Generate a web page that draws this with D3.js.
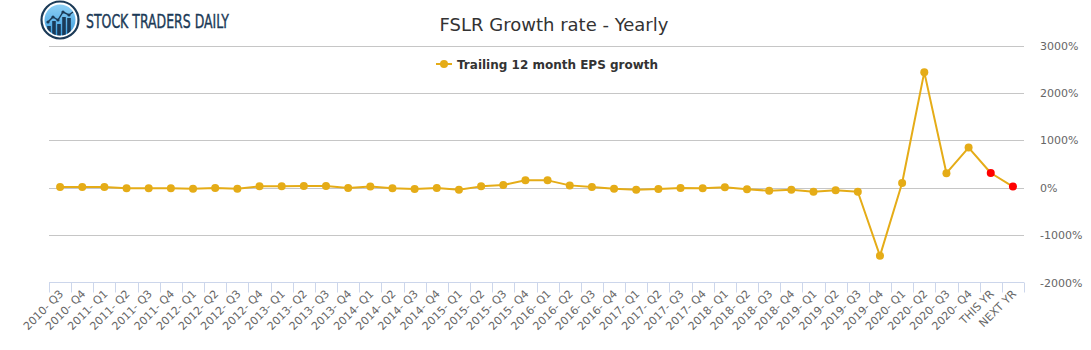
<!DOCTYPE html>
<html>
<head>
<meta charset="utf-8">
<script src="https://cdn.jsdelivr.net/npm/d3@7/dist/d3.min.js"></script>
<style>
  html, body { margin: 0; padding: 0; background: #fff; }
  svg { display: block; }
</style>
</head>
<body>
<svg id="chart" width="1091" height="350"></svg>
<script>
// ---------- DATA ----------
const categories = [
  "2010- Q3","2010- Q4",
  "2011- Q1","2011- Q2","2011- Q3","2011- Q4",
  "2012- Q1","2012- Q2","2012- Q3","2012- Q4",
  "2013- Q1","2013- Q2","2013- Q3","2013- Q4",
  "2014- Q1","2014- Q2","2014- Q3","2014- Q4",
  "2015- Q1","2015- Q2","2015- Q3","2015- Q4",
  "2016- Q1","2016- Q2","2016- Q3","2016- Q4",
  "2017- Q1","2017- Q2","2017- Q3","2017- Q4",
  "2018- Q1","2018- Q2","2018- Q3","2018- Q4",
  "2019- Q1","2019- Q2","2019- Q3","2019- Q4",
  "2020- Q1","2020- Q2","2020- Q3","2020- Q4",
  "THIS YR","NEXT YR"
];
// Trailing 12 month EPS growth (%)
const growthValues = [
  14, 14,
  14, -14, -14, -14,
  -21, -7, -21, 28,
  28, 35, 35, -7,
  25, -14, -28, -7,
  -42, 28, 56, 155,
  155, 49, 14, -21,
  -42, -28, -7, -14,
  10, -35, -63, -42,
  -85, -56, -85, -1438,
  100, 2438, 306, 846,
  310, 24
];
// categories whose marker is drawn as an estimate (red)
const estimateCategories = ["THIS YR", "NEXT YR"];
const yTicks = [-2000, -1000, 0, 1000, 2000, 3000];
const chartTitle = "FSLR Growth rate - Yearly";
const seriesName = "Trailing 12 month EPS growth";
const brandName = "STOCK TRADERS DAILY";

// ---------- LAYOUT ----------
const svg = d3.select("#chart");
const plot = { left: 49, right: 1024, top: 45.5, bottom: 282.5 };
const lineColor = "#E5AC17";
const estColor = "#FF0000";

const x = d3.scaleBand().domain(categories).range([plot.left, plot.right]).padding(0);
const y = d3.scaleLinear().domain([-2000, 3000]).range([plot.bottom, plot.top]);

// ---------- GRID ----------
svg.append("g").selectAll("line").data(yTicks).join("line")
  .attr("x1", plot.left).attr("x2", plot.right)
  .attr("y1", d => Math.round(y(d)) + 0.5).attr("y2", d => Math.round(y(d)) + 0.5)
  .attr("stroke", d => d === -2000 ? "none" : "#c6c6c6").attr("stroke-width", 1);

// right axis labels
svg.append("g").selectAll("text").data(yTicks).join("text")
  .attr("x", 1040).attr("y", d => y(d) + 4)
  .attr("font-family", "DejaVu Sans, sans-serif").attr("font-size", 11)
  .attr("fill", "#666").text(d => d + "%");

// ---------- X AXIS ----------
const xAxisG = svg.append("g");
xAxisG.append("line")
  .attr("x1", plot.left).attr("x2", plot.right)
  .attr("y1", plot.bottom).attr("y2", plot.bottom)
  .attr("stroke", "#ccd6eb").attr("stroke-width", 1);
const tickPositions = categories.map(c => x(c)).concat([x(categories[categories.length - 1]) + x.bandwidth()]);
xAxisG.selectAll("line.tick").data(tickPositions).join("line").attr("class", "tick")
  .attr("x1", d => Math.round(d) + 0.5).attr("x2", d => Math.round(d) + 0.5)
  .attr("y1", plot.bottom).attr("y2", plot.bottom + 10)
  .attr("stroke", "#ccd6eb").attr("stroke-width", 1);
xAxisG.selectAll("text").data(categories).join("text")
  .attr("transform", d => `translate(${x(d) + x.bandwidth() / 2 + 4},${plot.bottom + 12}) rotate(-45)`)
  .attr("text-anchor", "end")
  .attr("font-family", "DejaVu Sans, sans-serif").attr("font-size", 11)
  .attr("fill", "#666").text(d => d);

// ---------- SERIES ----------
const pts = categories.map((c, i) => ({ c, v: growthValues[i] }));
const line = d3.line().x(d => x(d.c) + x.bandwidth() / 2).y(d => y(d.v));
svg.append("path").datum(pts)
  .attr("d", line).attr("fill", "none")
  .attr("stroke", lineColor).attr("stroke-width", 2).attr("stroke-linejoin", "round");
svg.append("g").selectAll("circle").data(pts).join("circle")
  .attr("cx", d => x(d.c) + x.bandwidth() / 2).attr("cy", d => y(d.v))
  .attr("r", 4)
  .attr("fill", d => estimateCategories.includes(d.c) ? estColor : lineColor);

// ---------- TITLE ----------
svg.append("text").attr("x", 554).attr("y", 31)
  .attr("text-anchor", "middle")
  .attr("font-family", "DejaVu Sans, sans-serif").attr("font-size", 18)
  .attr("fill", "#333").text(chartTitle);

// ---------- LEGEND ----------
const lg = svg.append("g").attr("transform", "translate(436,64)");
lg.append("line").attr("x1", 0).attr("x2", 16).attr("y1", 0).attr("y2", 0)
  .attr("stroke", lineColor).attr("stroke-width", 2);
lg.append("circle").attr("cx", 8).attr("cy", 0).attr("r", 4).attr("fill", lineColor);
lg.append("text").attr("x", 21).attr("y", 4.5)
  .attr("font-family", "DejaVu Sans, sans-serif").attr("font-size", 12).attr("font-weight", "bold")
  .attr("fill", "#333").text(seriesName);

// ---------- LOGO ----------
const logo = svg.append("g").attr("transform", "translate(60,20)");
const defs = svg.append("defs");
const grad = defs.append("linearGradient").attr("id", "lg1").attr("x1", 0).attr("y1", 0).attr("x2", 0).attr("y2", 1);
grad.append("stop").attr("offset", "0%").attr("stop-color", "#8fd0f5");
grad.append("stop").attr("offset", "100%").attr("stop-color", "#3a9ee0");
logo.append("circle").attr("r", 18.5).attr("fill", "#fff").attr("stroke", "#1b3a57").attr("stroke-width", 2.2);
logo.append("circle").attr("r", 15.5).attr("fill", "url(#lg1)");
const clip = defs.append("clipPath").attr("id", "logoclip");
clip.append("circle").attr("cx", 60).attr("cy", 20).attr("r", 15.5);
const bars = [[-11, 6], [-6, 1], [-1, 4], [4, -3], [9, -2]];
const bg = svg.append("g").attr("clip-path", "url(#logoclip)");
bg.selectAll("rect").data(bars).join("rect")
  .attr("x", d => 60 + d[0] - 1.8).attr("y", d => 20 + d[1]).attr("width", 3.6).attr("height", 30)
  .attr("fill", "#1b3a57");
const lp = [[-12, 2], [-7, -3], [-2, 0], [3, -8], [9, -5], [13, -8]];
bg.append("path").attr("d", d3.line()(lp.map(p => [60 + p[0], 20 + p[1]])))
  .attr("fill", "none").attr("stroke", "#1b3a57").attr("stroke-width", 1.4);
bg.selectAll("circle.dot").data(lp.slice(0, 5)).join("circle").attr("class", "dot")
  .attr("cx", p => 60 + p[0]).attr("cy", p => 20 + p[1]).attr("r", 1.6).attr("fill", "#1b3a57");
svg.append("text").attr("x", 86).attr("y", 28)
  .attr("font-family", "Liberation Sans Narrow, DejaVu Sans Condensed, sans-serif")
  .attr("font-size", 20).attr("fill", "#1b3a57")
  .attr("stroke", "#1b3a57").attr("stroke-width", 0.4)
  .attr("textLength", 143).attr("lengthAdjust", "spacingAndGlyphs")
  .text(brandName);
</script>
</body>
</html>
